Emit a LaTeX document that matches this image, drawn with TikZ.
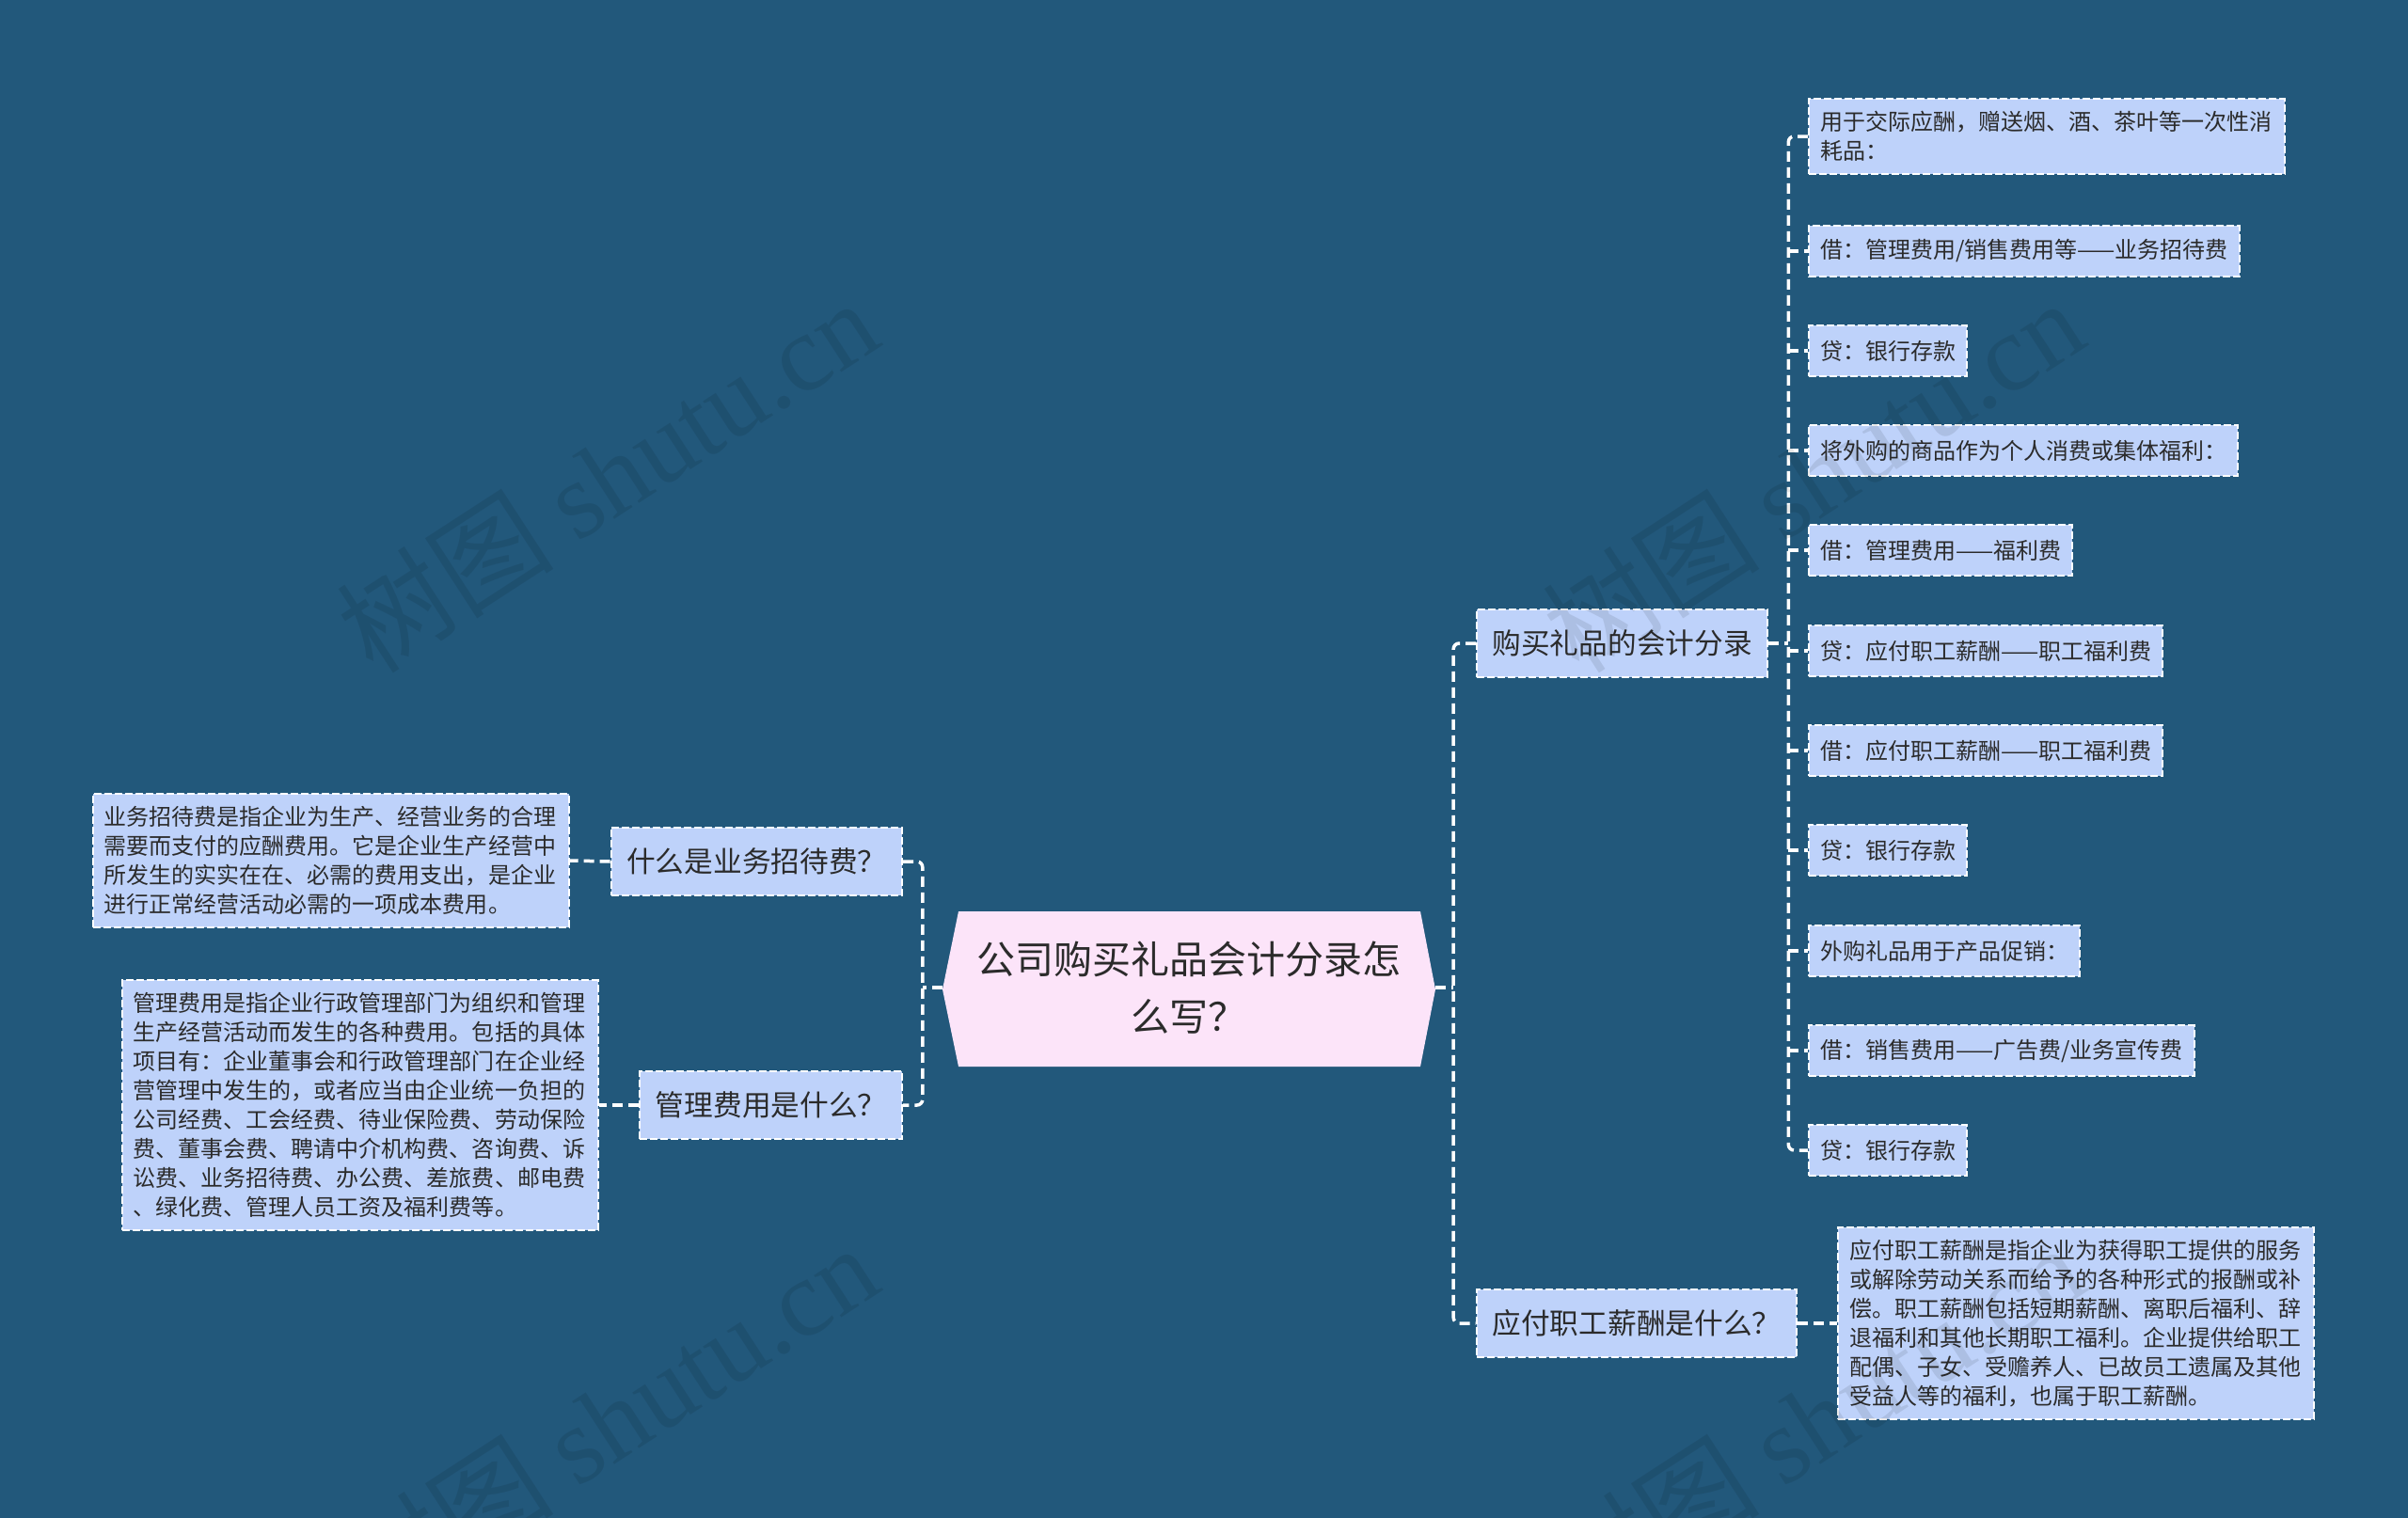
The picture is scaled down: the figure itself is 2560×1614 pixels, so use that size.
\documentclass[tikz,border=0pt]{standalone}
\usepackage{fontspec}
\setmainfont{Noto Sans CJK SC}
\newfontfamily\wmfont{Liberation Serif}
\usetikzlibrary{calc}

\definecolor{bgblue}{HTML}{22587B}
\definecolor{nodefill}{HTML}{BED2FA}
\definecolor{rootfill}{HTML}{FCE4F9}
\definecolor{inktext}{HTML}{2B2B2B}

\begin{document}
\begin{tikzpicture}[x=1bp, y=-1bp,
  rootnode/.style={text=inktext, align=center, minimum width=524bp, minimum height=165bp,
    font=\fontsize{41bp}{61bp}\selectfont},
  topic/.style={draw=white, fill=nodefill, line width=2bp, dash pattern=on 8bp off 3bp,
    text=inktext, inner xsep=16.5bp, inner ysep=0bp, minimum height=72bp,
    font=\fontsize{30.7bp}{38bp}\selectfont},
  leaf/.style={draw=white, fill=nodefill, line width=2bp, dash pattern=on 8bp off 3bp,
    text=inktext, inner xsep=12bp, inner ysep=0bp, minimum height=54bp,
    font=\fontsize{24bp}{31bp}\selectfont},
  para/.style={leaf, text width=482bp, align=left, inner ysep=13bp},
  link/.style={white, line width=3.5bp, dash pattern=on 11bp off 6bp, rounded corners=6bp},
  watermark/.style={black, text opacity=0.09, rotate=33,
    font=\fontsize{116bp}{116bp}\selectfont}
]

% === Canvas ===
\useasboundingbox (0,0) rectangle (2560,1614);
\fill[bgblue] (0,0) rectangle (2560,1614);

% === Centre: hexagon title ===
\fill[rootfill] (1002,1052) -- (1019,969) -- (1510,969) -- (1526,1052)
  -- (1510,1134) -- (1019,1134) -- cycle;
\node[rootnode] (root) at (1264,1050) {公司购买礼品会计分录怎\\么写？};

% === Left branch ===
\node[topic, anchor=east] (what) at (960,916) {什么是业务招待费？};
\node[topic, anchor=east] (mgmt) at (960,1175) {管理费用是什么？};

\node[para, anchor=east] (whatnote) at (606,915) {%
业务招待费是指企业为生产、经营业务的合理\\
需要而支付的应酬费用。它是企业生产经营中\\
所发生的实实在在、必需的费用支出，是企业\\
进行正常经营活动必需的一项成本费用。};

\node[para, anchor=east] (mgmtnote) at (637,1175) {%
管理费用是指企业行政管理部门为组织和管理\\
生产经营活动而发生的各种费用。包括的具体\\
项目有：企业董事会和行政管理部门在企业经\\
营管理中发生的，或者应当由企业统一负担的\\
公司经费、工会经费、待业保险费、劳动保险\\
费、董事会费、聘请中介机构费、咨询费、诉\\
讼费、业务招待费、办公费、差旅费、邮电费\\
、绿化费、管理人员工资及福利费等。};

% === Right branch ===
\node[topic, anchor=west] (buy) at (1569,684) {购买礼品的会计分录};
\node[topic, anchor=west] (wage) at (1569,1407) {应付职工薪酬是什么？};

% --- entries under buy ---
\node[para, anchor=west] (b1) at (1922,145) {%
用于交际应酬，赠送烟、酒、茶叶等一次性消\\
耗品：};
\node[leaf, anchor=west] (b2) at (1922,267) {借：管理费用/销售费用等——业务招待费};
\node[leaf, anchor=west] (b3) at (1922,373) {贷：银行存款};
\node[leaf, anchor=west] (b4) at (1922,479) {将外购的商品作为个人消费或集体福利：};
\node[leaf, anchor=west] (b5) at (1922,585) {借：管理费用——福利费};
\node[leaf, anchor=west] (b6) at (1922,692) {贷：应付职工薪酬——职工福利费};
\node[leaf, anchor=west] (b7) at (1922,798) {借：应付职工薪酬——职工福利费};
\node[leaf, anchor=west] (b8) at (1922,904) {贷：银行存款};
\node[leaf, anchor=west] (b9) at (1922,1011) {外购礼品用于产品促销：};
\node[leaf, anchor=west] (b10) at (1922,1117) {借：销售费用——广告费/业务宣传费};
\node[leaf, anchor=west] (b11) at (1922,1223) {贷：银行存款};

% --- note under wage ---
\node[para, anchor=west] (wagenote) at (1953,1407) {%
应付职工薪酬是指企业为获得职工提供的服务\\
或解除劳动关系而给予的各种形式的报酬或补\\
偿。职工薪酬包括短期薪酬、离职后福利、辞\\
退福利和其他长期职工福利。企业提供给职工\\
配偶、子女、受赡养人、已故员工遗属及其他\\
受益人等的福利，也属于职工薪酬。};

% === Connectors ===
\coordinate (ltrunk) at ($(root.west)+(-21,0)$);
\coordinate (rtrunk) at ($(root.east)+(19,0)$);
\coordinate (btrunk) at ($(buy.east)+(21,0)$);

\draw[link] (root.west) -- (ltrunk);
\draw[link] (what.east) -- (what.east -| ltrunk) -- (mgmt.east -| ltrunk) -- (mgmt.east);
\draw[link] (what.west) -- (whatnote.east);
\draw[link] (mgmt.west) -- (mgmtnote.east);

\draw[link] (root.east) -- (rtrunk);
\draw[link] (buy.west) -- (buy.west -| rtrunk) -- (wage.west -| rtrunk) -- (wage.west);
\draw[link] (wage.east) -- (wagenote.west);

\draw[link] (buy.east) -- (btrunk);
\draw[link] (b1.west) -- (b1.west -| btrunk) -- (b11.west -| btrunk) -- (b11.west);
\foreach \i in {2,...,10}
  \draw[link] (b\i.west -| btrunk) -- (b\i.west);

% === Watermarks ===
\node[watermark] (wm1) at (645,505) {树图 {\wmfont shutu.cn}};
\node[watermark] (wm2) at (1927,505) {树图 {\wmfont shutu.cn}};
\node[watermark] (wm3) at (645,1510) {树图 {\wmfont shutu.cn}};
\node[watermark] (wm4) at (1927,1510) {树图 {\wmfont shutu.cn}};

\end{tikzpicture}
\end{document}
